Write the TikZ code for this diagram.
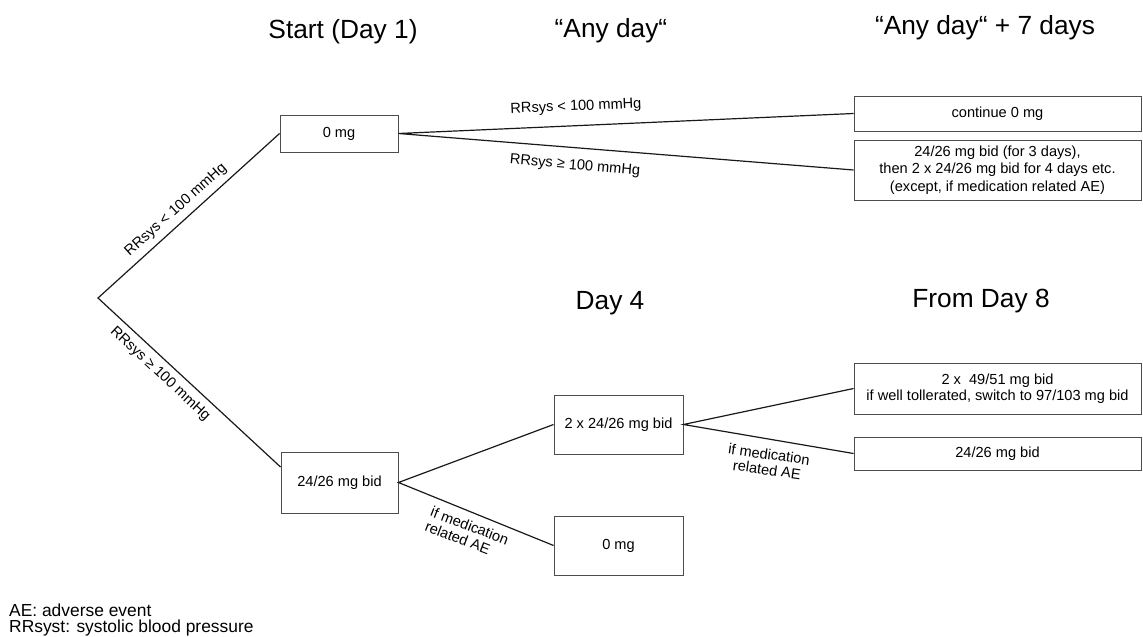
\documentclass[tikz,border=0pt]{standalone}
\usepackage{fontspec}
\setmainfont{Liberation Sans}
\usetikzlibrary{calc}
\begin{document}
\begin{tikzpicture}[x=1pt,y=-1pt,
  box/.style={draw=black!70, line width=0.9pt, rectangle, inner sep=0pt, align=center,
              font=\fontsize{14.6}{17.5}\selectfont},
  conn/.style={line width=1.2pt, draw=black!90},
  lbl/.style={font=\fontsize{14.6}{15.5}\selectfont, inner sep=0pt, align=center},
  head/.style={font=\fontsize{26.3}{30}\selectfont, inner sep=0pt, anchor=base},
  legend/.style={font=\fontsize{17.4}{16}\selectfont, inner sep=0pt, anchor=base west}]
\useasboundingbox (0,0) rectangle (1143,637);

% headers
\node[head] (h1) at (343,38) {Start (Day 1)};
\node[head] (h2) at (611,37) {“Any day“};
\node[head] (h3) at (985,34) {“Any day“ + 7 days};
\node[head] (h4) at (610,309) {Day 4};
\node[head] (h5) at (981,307) {From Day 8};

% root
\coordinate (root) at (98,298);

% boxes
\node[box, minimum width=118pt, minimum height=37pt] (b0) at (339,133.5) {0 mg};
\node[box, minimum width=117pt, minimum height=61pt] (b1) at (339.5,482.5) {24/26 mg bid};
\node[box, minimum width=287pt, minimum height=35pt] (a1) at (997.5,113.5) {continue 0 mg};
\node[box, minimum width=287pt, minimum height=60pt] (a2) at (997.5,170) {24/26 mg bid (for 3 days),\\then 2 x 24/26 mg bid for 4 days etc.\\(except, if medication related AE)};
\node[box, minimum width=129pt, minimum height=59pt] (c1) at (618.5,424.5) {2 x 24/26 mg bid};
\node[box, minimum width=129pt, minimum height=59pt] (c2) at (618.5,545.5) {0 mg};
\node[box, minimum width=287pt, minimum height=51pt, font=\fontsize{14.6}{16}\selectfont] (d1) at (997.5,388.5) {2 x\ \ 49/51 mg bid\\if well tollerated, switch to 97/103 mg bid};
\node[box, minimum width=287pt, minimum height=33pt] (d2) at (997.5,453.5) {24/26 mg bid};

% connectors
\draw[conn] (b0.west) -- (root) -- ($(b1.north west)!0.25!(b1.south west)$);
\draw[conn] (a1.west) -- (b0.east) -- (a2.west);
\draw[conn] (c1.west) -- (b1.east) -- (c2.west);
\draw[conn] (d1.west) -- (c1.east) -- (d2.west);

% connector labels
\node[lbl, rotate=42] (l1) at (176,210) {RRsys < 100 mmHg};
\node[lbl, rotate=-43] (l2) at (160,374) {RRsys ≥ 100 mmHg};
\node[lbl, rotate=2.5] (l3) at (576,107) {RRsys < 100 mmHg};
\node[lbl, rotate=-5] (l4) at (575,166) {RRsys ≥ 100 mmHg};
\node[lbl, rotate=-21, align=left] (l5) at (467,533) {if medication\\related AE};
\node[lbl, rotate=-8] (l6) at (768,462) {if medication\\related AE};

% legend
\node[legend] (k1) at (9,616) {AE: adverse event};
\node[legend] (k2) at (9,632) {RRsyst: systolic blood pressure};
\end{tikzpicture}
\end{document}
